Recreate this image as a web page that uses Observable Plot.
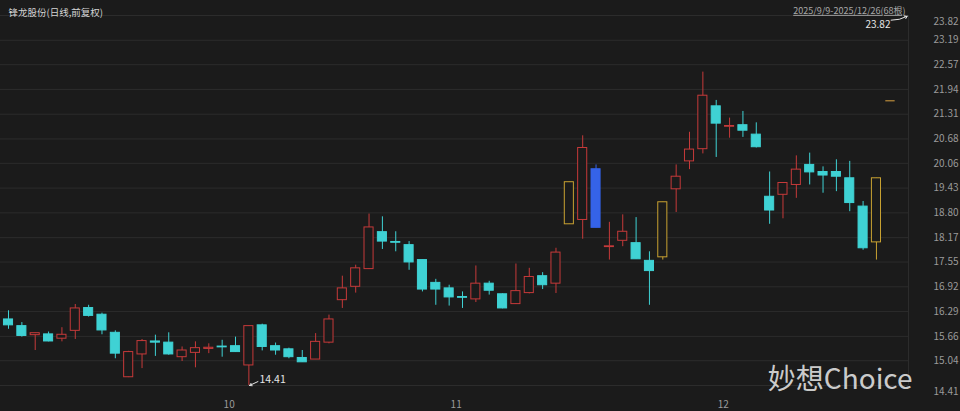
<!DOCTYPE html>
<html><head><meta charset="utf-8">
<script src="https://cdn.jsdelivr.net/npm/d3@7"></script>
<script src="https://cdn.jsdelivr.net/npm/@observablehq/plot@0.6"></script>
<style>
html,body{margin:0;padding:0;background:#1b1b1b;overflow:hidden}
</style></head><body><div id="chart"></div>
<script>
const title = "锋龙股份(日线,前复权)";
const rangeLabel = "2025/9/9-2025/12/26(68根)";
const watermark = "妙想Choice";

const open  = [16.09,15.92,15.69,15.71,15.60,15.80,16.38,16.21,15.75,14.62,15.20,15.53,15.50,15.13,15.24,15.34,15.40,15.41,14.92,15.94,15.41,15.33,15.11,15.07,15.50,16.58,16.92,17.37,18.31,18.06,17.98,17.60,17.02,16.88,16.66,16.60,17.00,16.73,16.48,16.76,17.19,17.00,18.51,18.62,19.91,17.93,18.09,18.03,17.58,17.67,19.40,20.11,20.42,21.51,20.99,21.03,20.79,19.21,19.26,19.51,20.02,19.84,19.84,19.68,18.96,18.05];
const high  = [16.31,16.01,15.74,15.77,15.88,16.47,16.45,16.25,15.80,15.28,15.58,15.69,15.75,15.39,15.52,15.47,15.56,15.64,15.92,15.97,15.49,15.36,15.30,15.73,16.20,17.19,17.47,18.77,18.70,18.32,18.07,17.60,17.11,16.96,16.79,17.45,17.06,16.74,17.50,17.39,17.28,17.90,19.58,20.76,20.02,18.56,18.75,18.68,17.81,19.07,20.02,20.85,22.38,21.66,21.21,21.38,21.09,19.84,19.57,20.25,20.32,19.97,20.15,20.11,19.09,19.68];
const low   = [15.84,15.64,15.30,15.52,15.52,15.58,16.15,15.70,15.09,14.61,14.84,15.15,15.18,15.02,14.86,15.22,15.13,15.25,14.41,15.29,15.18,15.09,15.00,15.07,15.47,16.37,16.76,17.37,17.87,17.81,17.34,16.79,16.45,16.43,16.37,16.52,16.71,16.36,16.48,16.74,16.85,16.75,18.51,18.13,18.42,17.60,17.94,17.62,16.45,17.60,18.81,19.90,20.30,20.21,20.70,20.72,20.45,18.51,18.65,19.17,19.51,19.30,19.34,18.83,17.85,17.60];
const close = [15.94,15.67,15.74,15.53,15.70,16.37,16.18,15.81,15.22,15.26,15.54,15.50,15.20,15.30,15.36,15.37,15.38,15.26,15.92,15.39,15.30,15.13,15.00,15.52,16.09,16.88,17.39,18.43,18.07,18.04,17.54,16.85,16.85,16.65,16.64,17.00,16.82,16.37,16.81,17.17,16.96,17.79,19.58,20.45,18.42,17.95,18.32,17.62,17.32,19.07,19.72,20.41,21.78,21.07,21.01,20.89,20.47,18.86,19.56,19.90,19.83,19.75,19.72,19.05,17.90,19.68];

const markedYellow = [42, 49, 65];   // highlighted (outlined) candles
const markedBlue = [44];             // selected candle
const slotCount = 68;
const yTicks = [14.41,15.04,15.66,16.29,16.92,17.55,18.17,18.80,19.43,20.06,20.68,21.31,21.94,22.57,23.19,23.82];
const monthLabels = ["10","11","12"];
const monthStart = [16,33,53];
const maxLabel = 23.82;
const lastLine = 21.65;

const BG = "#1b1b1b";
const COL = {up:"#c63a3a", down:"#3fd2d4", yellow:"#c9a232", blue:"#3563e8"};
const FILL = {up:BG, down:"#3fd2d4", yellow:BG, blue:"#3563e8"};

const candles = open.map((o,i)=>({
  i, o, h: high[i], l: low[i], c: close[i],
  kind: markedBlue.includes(i) ? "blue" : markedYellow.includes(i) ? "yellow" : (close[i] >= o ? "up" : "down")
}));
const minLow = d3.min(low);
const minIdx = low.indexOf(minLow);
const xMin = -0.6, xMax = slotCount - 0.6;
const font = "'Noto Sans CJK SC', 'Noto Sans', sans-serif";
const midTicks = yTicks.slice(1, -1);

const chart = Plot.plot({
  width: 960, height: 411,
  marginTop: 15, marginBottom: 26, marginLeft: 0, marginRight: 52,
  style: {background: BG, color: "#9a9a9a", fontFamily: font, fontSize: "10px"},
  x: {type: "linear", domain: [xMin, xMax], axis: null, label: null},
  y: {domain: [yTicks[0], yTicks[yTicks.length-1]], axis: null, label: null},
  color: {type: "identity"},
  marks: [
    Plot.ruleY(yTicks, {stroke: "#2c2c2c"}),
    Plot.ruleX([xMax], {stroke: "#2c2c2c"}),
    Plot.text(midTicks, {y: d => d, text: d => d.toFixed(2), frameAnchor: "right", dx: 50, textAnchor: "end", fill: "#9a9a9a", fontSize: 10}),
    Plot.text([yTicks[yTicks.length-1]], {y: d => d, text: d => d.toFixed(2), frameAnchor: "right", dx: 50, dy: 6, textAnchor: "end", fill: "#9a9a9a", fontSize: 10}),
    Plot.text([yTicks[0]], {y: d => d, text: d => d.toFixed(2), frameAnchor: "right", dx: 50, dy: 6, textAnchor: "end", fill: "#9a9a9a", fontSize: 10}),
    Plot.axisX(monthStart, {anchor: "bottom", label: null, tickSize: 0, tickPadding: 15, dx: 7, tickFormat: d => monthLabels[monthStart.indexOf(d)], fill: "#9a9a9a", fontSize: 10}),
    Plot.ruleX(candles, {x: "i", y1: "l", y2: "h", stroke: d => COL[d.kind]}),
    Plot.rect(candles, {x1: d => d.i - 0.34, x2: d => d.i + 0.34, y1: "o", y2: "c", fill: d => FILL[d.kind], stroke: d => COL[d.kind]}),
    Plot.ruleY([lastLine], {x1: candles.length - 0.3, x2: candles.length + 0.4, stroke: "#d8a040"}),
    // low annotation
    Plot.arrow([minLow], {x1: minIdx + 0.68, y1: d => d + 0.1, x2: minIdx + 0.05, y2: d => d, stroke: "#e6e6e6", strokeWidth: 1, headLength: 4}),
    Plot.text([minLow], {x: minIdx + 0.8, y: d => d + 0.14, text: d => d.toFixed(2), textAnchor: "start", fill: "#e6e6e6", fontSize: 10.5}),
    // high annotation
    Plot.arrow([maxLabel], {x1: xMax - 1.3, y1: d => d - 0.12, x2: xMax - 0.1, y2: d => d - 0.02, stroke: "#e6e6e6", strokeWidth: 1, headLength: 4, bend: -15}),
    Plot.text([maxLabel], {x: xMax - 1.35, y: d => d - 0.24, text: d => d.toFixed(2), textAnchor: "end", fill: "#e6e6e6", fontSize: 10}),
    // header texts
    Plot.text([title], {frameAnchor: "top-left", dx: 8, dy: -6, textAnchor: "start", fill: "#d4d4d4", fontSize: 9.5}),
    Plot.text([rangeLabel], {frameAnchor: "top-right", dx: -3, dy: -8, textAnchor: "end", fill: "#a8a8a8", fontSize: 9, className: "range-label"}),
    Plot.text([watermark], {frameAnchor: "bottom-right", dx: 4, dy: 3, textAnchor: "end", fill: "#e4e4e4", fillOpacity: 0.9, fontSize: 28})
  ]
});
d3.select(chart).selectAll(".range-label text").style("text-decoration", "underline");
document.getElementById("chart").appendChild(chart);
</script></body></html>
